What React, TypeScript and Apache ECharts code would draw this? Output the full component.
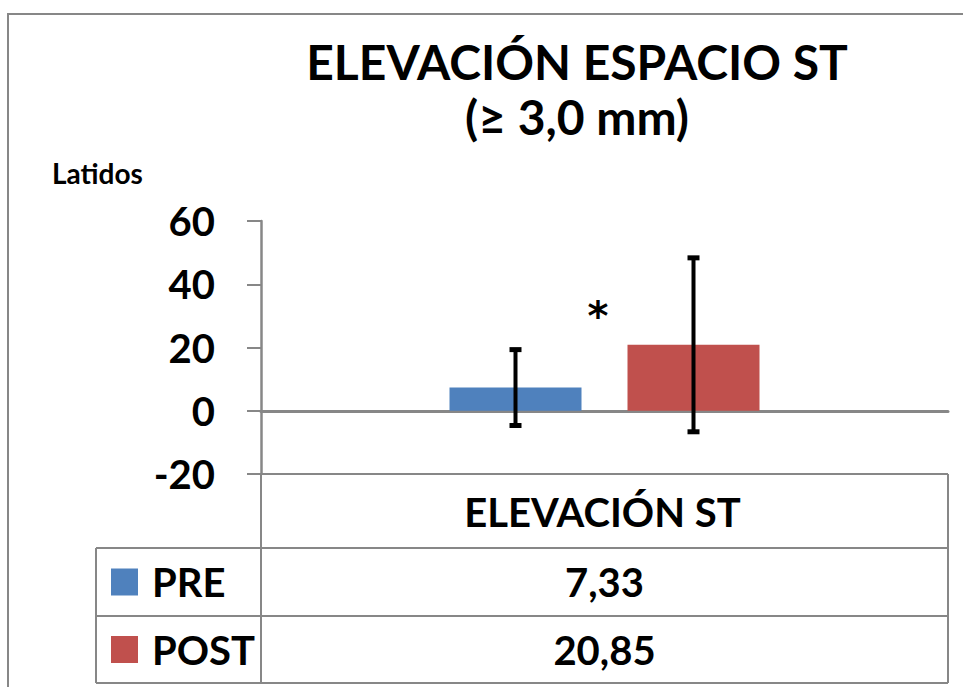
import React, { useEffect, useRef } from "react";
import * as echarts from "echarts";

const categories = ["ELEVACIÓN ST"];
const seriesNames = ["PRE", "POST"];
const seriesColors = ["#4F81BD", "#C0504D"];
const means = [7.33, 20.85];
const sds = [12.0, 27.5];
const yTicks = [-20, 0, 20, 40, 60];
const titleLines = ["ELEVACIÓN ESPACIO ST", "(≥ 3,0 mm)"];
const yAxisName = "Latidos";
const significance = "*";

const FONT = "Lato, 'Open Sans', sans-serif";
const BAR_W = 132;
const BAR_GAP = 46;
const GRID_L = 261;
const GRID_R = 948;
const GRID_T = 221;
const GRID_B = 474;
const ROW_Y = [474, 548, 616, 683];
const TABLE_L = 96;
const LINE_C = "#878787";

const fmt = (v: number) => v.toFixed(2).replace(".", ",");

export default function App() {
  const ref = useRef<HTMLDivElement>(null);
  useEffect(() => {
    if (!ref.current) return;
    const chart = echarts.init(ref.current, null, { renderer: "svg" });
    const offset = (BAR_W + BAR_GAP) / 2;
    const midX = (GRID_L + GRID_R) / 2;

    const graphics: any[] = [];
    // outer chart border
    graphics.push({
      type: "polyline",
      shape: { points: [[8, 700], [8, 14], [970, 14]] },
      style: { stroke: LINE_C, lineWidth: 2, fill: "none" },
      silent: true,
    });
    titleLines.forEach((t, i) => {
      graphics.push({
        type: "text",
        x: 577,
        y: i === 0 ? 61 : 116,
        style: {
          text: t,
          fontFamily: FONT,
          fontWeight: "bold",
          fontSize: 48,
          fill: "#000",
          align: "center",
          verticalAlign: "middle",
        },
      });
    });
    graphics.push({
      type: "text",
      x: 52,
      y: 173,
      style: {
        text: yAxisName,
        fontFamily: FONT,
        fontWeight: "bold",
        fontSize: 28,
        fill: "#000",
        align: "left",
        verticalAlign: "middle",
      },
    });
    graphics.push({
      type: "text",
      x: 598,
      y: 316,
      style: {
        text: significance,
        fontFamily: "'DejaVu Sans', sans-serif",
        fontWeight: "bold",
        fontSize: 40,
        fill: "#000",
        align: "center",
        verticalAlign: "middle",
      },
    });
    // data table lines
    const hl = (x1: number, x2: number, y: number) => ({
      type: "line",
      shape: { x1, y1: y, x2, y2: y },
      style: { stroke: LINE_C, lineWidth: 2 },
      silent: true,
    });
    const vl = (x: number, y1: number, y2: number) => ({
      type: "line",
      shape: { x1: x, y1, x2: x, y2 },
      style: { stroke: LINE_C, lineWidth: 2 },
      silent: true,
    });
    graphics.push(hl(GRID_L, GRID_R, ROW_Y[0]));
    graphics.push(hl(TABLE_L, GRID_R, ROW_Y[1]));
    graphics.push(hl(TABLE_L, GRID_R, ROW_Y[2]));
    graphics.push(hl(TABLE_L, GRID_R, ROW_Y[3]));
    graphics.push(vl(GRID_L, GRID_B, ROW_Y[3]));
    graphics.push(vl(GRID_R, ROW_Y[0], ROW_Y[3]));
    graphics.push(vl(TABLE_L, ROW_Y[1], ROW_Y[3]));
    graphics.push({
      type: "text",
      x: midX - 2,
      y: (ROW_Y[0] + ROW_Y[1]) / 2 + 1,
      style: {
        text: categories[0],
        fontFamily: FONT,
        fontWeight: "bold",
        fontSize: 40,
        fill: "#000",
        align: "center",
        verticalAlign: "middle",
      },
    });
    seriesNames.forEach((name, i) => {
      const cy = (ROW_Y[i + 1] + ROW_Y[i + 2]) / 2;
      graphics.push({
        type: "rect",
        shape: { x: 111, y: cy - 13.5, width: 27, height: 27 },
        style: { fill: seriesColors[i] },
      });
      graphics.push({
        type: "text",
        x: 152,
        y: cy,
        style: {
          text: name,
          fontFamily: FONT,
          fontWeight: "bold",
          fontSize: 40,
          fill: "#000",
          align: "left",
          verticalAlign: "middle",
        },
      });
      graphics.push({
        type: "text",
        x: midX,
        y: cy,
        style: {
          text: fmt(means[i]),
          fontFamily: FONT,
          fontWeight: "bold",
          fontSize: 40,
          fill: "#000",
          align: "center",
          verticalAlign: "middle",
        },
      });
    });

    const barSeries = seriesNames.map((name, i) => ({
      name,
      type: "bar",
      data: [means[i]],
      barWidth: BAR_W,
      barGap: (BAR_GAP / BAR_W) * 100 + "%",
      itemStyle: { color: seriesColors[i] },
      z: 2,
    }));

    const errData = seriesNames.map((_, i) => [0, means[i] - sds[i], means[i] + sds[i], i]);

    chart.setOption({
      animation: false,
      grid: {
        left: GRID_L,
        right: 963 - GRID_R,
        top: GRID_T,
        bottom: 687 - GRID_B,
        containLabel: false,
      },
      xAxis: {
        type: "category",
        data: categories,
        axisLine: { onZero: true, lineStyle: { color: LINE_C, width: 3 } },
        axisTick: { show: false },
        axisLabel: { show: false },
        splitLine: { show: false },
      },
      yAxis: {
        type: "value",
        min: yTicks[0],
        max: yTicks[yTicks.length - 1],
        interval: 20,
        axisLine: { show: true, onZero: false, lineStyle: { color: LINE_C, width: 2.5 } },
        axisTick: { show: true, length: 14, lineStyle: { color: LINE_C, width: 2 } },
        splitLine: { show: false },
        axisLabel: {
          margin: 46,
          fontFamily: FONT,
          fontWeight: "bold",
          fontSize: 40,
          color: "#000",
        },
      },
      series: [
        ...barSeries,
        {
          type: "custom",
          z: 5,
          data: errData,
          renderItem: (params: any, api: any) => {
            const idx = api.value(3);
            const sign = idx === 0 ? -1 : 1;
            const lo = api.coord([api.value(0), api.value(1)]);
            const hi = api.coord([api.value(0), api.value(2)]);
            const x = lo[0] + sign * offset;
            const capW = 12;
            const capH = 5;
            return {
              type: "group",
              children: [
                {
                  type: "line",
                  shape: { x1: x, y1: hi[1], x2: x, y2: lo[1] },
                  style: { stroke: "#000", lineWidth: 4 },
                },
                {
                  type: "rect",
                  shape: { x: x - capW / 2, y: hi[1] - capH / 2, width: capW, height: capH },
                  style: { fill: "#000" },
                },
                {
                  type: "rect",
                  shape: { x: x - capW / 2, y: lo[1] - capH / 2, width: capW, height: capH },
                  style: { fill: "#000" },
                },
              ],
            };
          },
        },
      ],
      graphic: graphics,
    });
    return () => chart.dispose();
  }, []);
  return (
    <div
      ref={ref}
      style={{ position: "absolute", left: 0, top: 0, width: 963, height: 687, background: "#fff" }}
    />
  );
}
